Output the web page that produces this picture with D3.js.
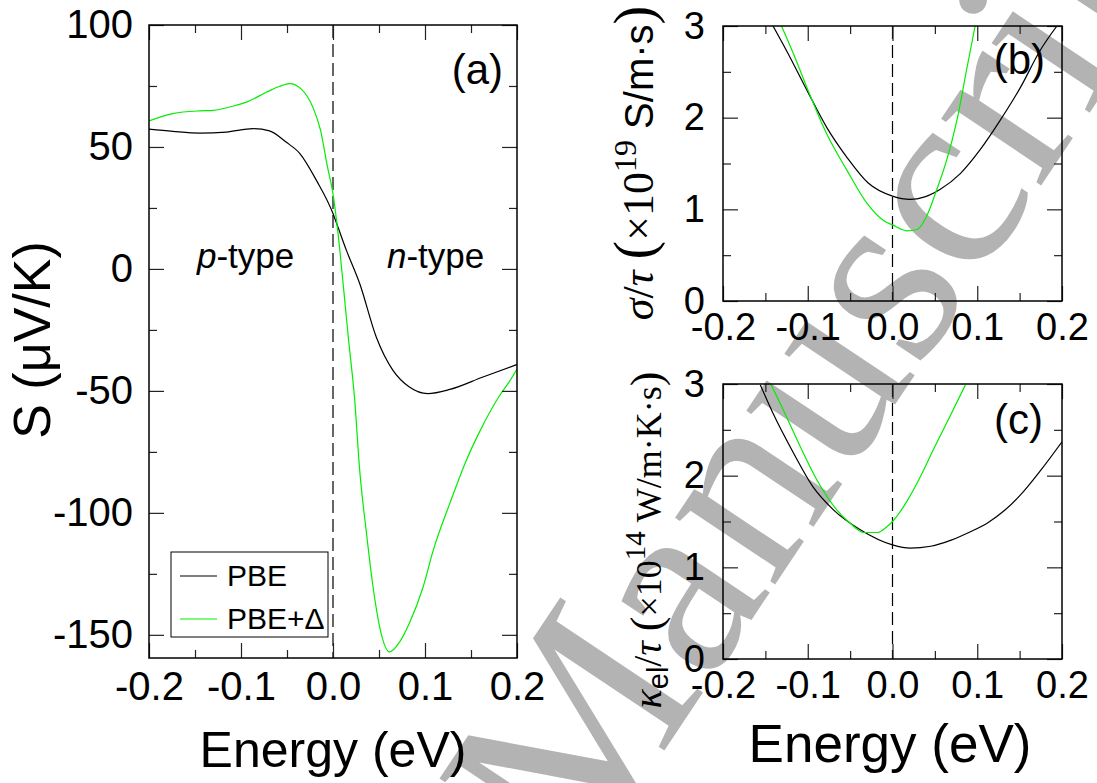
<!DOCTYPE html>
<html>
<head>
<meta charset="utf-8">
<script src="https://cdn.jsdelivr.net/npm/d3@7"></script>
<style>
  body { margin: 0; background: #fff; }
  svg { display: block; }
</style>
</head>
<body>
<svg id="fig" width="1097" height="783"></svg>
<script>
// ---- values ----
// (a) Seebeck coefficient S (uV/K) vs energy (eV)
const energyA_pbe = [-0.2, -0.174, -0.145, -0.116, -0.087, -0.069, -0.051, -0.036, -0.018, 0, 0.004, 0.0145, 0.029, 0.047, 0.065, 0.083, 0.103, 0.127, 0.163, 0.2];
const seebeck_pbe = [57.3, 56.4, 55.7, 56.1, 57.5, 56.6, 52.0, 47.3, 36.3, 22.7, 18.6, 7.7, -6, -27.9, -41.5, -48.4, -51.1, -49.4, -44.3, -39.2];
const energyA_gap = [-0.2, -0.174, -0.145, -0.13, -0.109, -0.094, -0.072, -0.058, -0.047, -0.035, -0.022, -0.0135, -0.006, 0, 0.0055, 0.011, 0.0166, 0.0236, 0.029, 0.036, 0.0435, 0.0507, 0.0616, 0.0725, 0.083, 0.098, 0.109, 0.127, 0.145, 0.159, 0.181, 0.192, 0.2];
const seebeck_gap = [60.7, 63.7, 64.8, 65, 66.7, 68.4, 72.5, 74.9, 76, 73.9, 66.4, 56.8, 41.8, 30.9, 14.5, -6, -27.9, -53.8, -82.5, -107.1, -130.3, -146.7, -157, -152.9, -145.3, -130.3, -115.3, -96.1, -78.4, -67, -52, -46, -41];

// (b) sigma/tau (1e19 S/m s)
const energyB_pbe = [-0.141, -0.125, -0.101, -0.078, -0.054, -0.029, 0, 0.0207, 0.038, 0.056, 0.08, 0.103, 0.127, 0.151, 0.174, 0.194];
const sigma_pbe = [3.0, 2.73, 2.30, 1.90, 1.57, 1.29, 1.144, 1.108, 1.136, 1.217, 1.39, 1.645, 1.97, 2.33, 2.73, 3.0];
const energyB_gap = [-0.131, -0.117, -0.101, -0.078, -0.054, -0.030, -0.011, 0, 0.017, 0.029, 0.040, 0.052, 0.064, 0.076, 0.088, 0.0975];
const sigma_gap = [3.0, 2.70, 2.33, 1.83, 1.43, 1.064, 0.88, 0.83, 0.766, 0.78, 0.92, 1.21, 1.54, 1.97, 2.55, 3.0];

// (c) kappa_el/tau (1e14 W/m K s)
const energyC_pbe = [-0.156, -0.141, -0.117, -0.094, -0.070, -0.038, 0, 0.021, 0.045, 0.070, 0.090, 0.113, 0.132, 0.151, 0.175, 0.2];
const kappa_pbe = [2.99, 2.68, 2.25, 1.88, 1.63, 1.41, 1.245, 1.21, 1.23, 1.30, 1.38, 1.49, 1.62, 1.79, 2.06, 2.37];
const energyC_gap = [-0.143, -0.129, -0.109, -0.089, -0.066, -0.050, -0.034, -0.018, -0.007, 0, 0.017, 0.033, 0.048, 0.068, 0.086];
const kappa_gap = [2.99, 2.72, 2.32, 1.95, 1.63, 1.48, 1.38, 1.38, 1.44, 1.50, 1.72, 1.99, 2.28, 2.65, 2.99];

// ticks
const xMajorTicks = [-0.2, -0.1, 0, 0.1, 0.2];
const xMinorTicks = [-0.15, -0.05, 0.05, 0.15];
const yMajorTicksA = [100, 50, 0, -50, -100, -150];
const yMinorTicksA = [75, 25, -25, -75, -125];
const yMajorTicksBC = [0, 1, 2, 3];
const yMinorTicksBC = [0.5, 1.5, 2.5];

const seriesNames = ["PBE", "PBE+\u0394"];
const seriesColors = ["#000000", "#00ee00"];

const SANS = "'Liberation Sans', Arial, Helvetica, sans-serif";
const SERIF = "'Liberation Serif', 'Times New Roman', serif";

const svg = d3.select('#fig');

// watermark (behind everything)
svg.append('text')
    .attr('transform', 'translate(578,880) rotate(-56.3)')
    .attr('font-family', SERIF)
    .attr('font-size', 262)
    .attr('fill', '#b3b3b3')
    .text('Manuscript');

function drawPanel(p) {
  const g = svg.append('g').attr('transform', 'translate(' + p.left + ',' + p.top + ')');
  const x = d3.scaleLinear().domain([-0.2, 0.2]).range([0, p.w]);
  const y = d3.scaleLinear().domain(p.yDomain).range([p.h, 0]);

  g.append('clipPath').attr('id', 'clip-' + p.id)
    .append('rect').attr('width', p.w).attr('height', p.h);

  // dashed line at E = 0
  g.append('line')
      .attr('x1', x(0)).attr('x2', x(0))
      .attr('y1', 0).attr('y2', p.h)
      .attr('stroke', '#000')
      .attr('stroke-width', 1.2)
      .attr('stroke-dasharray', '13,6');

  const line = d3.line().curve(d3.curveMonotoneX).x(d => x(d[0])).y(d => y(d[1]));
  p.series.forEach(function(s, i) {
    g.append('path')
        .datum(d3.zip(s.e, s.v))
        .attr('clip-path', 'url(#clip-' + p.id + ')')
        .attr('fill', 'none')
        .attr('stroke', seriesColors[i])
        .attr('stroke-width', 1.2)
        .attr('d', line);
  });

  const fmtX = d => d.toFixed(1);
  const fmtY = d => String(d);

  // bottom / left with labels, top / right without
  g.append('g').attr('transform', 'translate(0,' + p.h + ')')
      .call(d3.axisBottom(x).tickValues(xMajorTicks).tickSize(-15).tickPadding(p.xPad).tickFormat(fmtX));
  g.append('g').attr('transform', 'translate(0,' + p.h + ')')
      .call(d3.axisBottom(x).tickValues(xMinorTicks).tickSize(-8).tickFormat(''));
  g.append('g')
      .call(d3.axisTop(x).tickValues(xMajorTicks).tickSize(-15).tickFormat(''));
  g.append('g')
      .call(d3.axisTop(x).tickValues(xMinorTicks).tickSize(-8).tickFormat(''));
  g.append('g')
      .call(d3.axisLeft(y).tickValues(p.yMajor).tickSize(-15).tickPadding(p.yPad).tickFormat(fmtY));
  g.append('g')
      .call(d3.axisLeft(y).tickValues(p.yMinor).tickSize(-8).tickFormat(''));
  g.append('g').attr('transform', 'translate(' + p.w + ',0)')
      .call(d3.axisRight(y).tickValues(p.yMajor).tickSize(-15).tickFormat(''));
  g.append('g').attr('transform', 'translate(' + p.w + ',0)')
      .call(d3.axisRight(y).tickValues(p.yMinor).tickSize(-8).tickFormat(''));

  g.selectAll('.domain').remove();
  g.selectAll('.tick line').attr('stroke', '#222').attr('stroke-width', 1.2);
  g.selectAll('.tick text')
      .attr('font-family', SANS)
      .attr('font-size', p.tickFont)
      .attr('fill', '#000');

  g.append('rect')
      .attr('width', p.w).attr('height', p.h)
      .attr('fill', 'none')
      .attr('stroke', '#000')
      .attr('stroke-width', 1.5);

  g.append('text')
      .attr('x', p.tagX).attr('y', p.tagY)
      .attr('text-anchor', 'end')
      .attr('font-family', SANS)
      .attr('font-size', 42)
      .text(p.tag);

  return { g: g, x: x, y: y };
}

// ---- panel (a) ----
const pa = drawPanel({
  id: 'a', left: 149, top: 25, w: 368, h: 633,
  yDomain: [-159.5, 100], yMajor: yMajorTicksA, yMinor: yMinorTicksA,
  xPad: 14, yPad: 16, tickFont: 40, tag: '(a)', tagX: 354, tagY: 59,
  series: [{ e: energyA_pbe, v: seebeck_pbe }, { e: energyA_gap, v: seebeck_gap }]
});

pa.g.append('text').attr('x', 48).attr('y', 243)
    .attr('font-family', SANS).attr('font-size', 35)
    .call(t => t.append('tspan').attr('font-style', 'italic').text('p'))
    .call(t => t.append('tspan').text('-type'));
pa.g.append('text').attr('x', 238).attr('y', 243)
    .attr('font-family', SANS).attr('font-size', 35)
    .call(t => t.append('tspan').attr('font-style', 'italic').text('n'))
    .call(t => t.append('tspan').text('-type'));

// legend
const leg = pa.g.append('g').attr('transform', 'translate(22,527)');
leg.append('rect').attr('width', 157).attr('height', 85)
    .attr('fill', '#fff').attr('stroke', '#000').attr('stroke-width', 1);
seriesNames.forEach(function(name, i) {
  leg.append('line').attr('x1', 9).attr('x2', 46)
      .attr('y1', 24 + i * 43).attr('y2', 24 + i * 43)
      .attr('stroke', seriesColors[i]).attr('stroke-width', 1.2);
  leg.append('text').attr('x', 56).attr('y', 34 + i * 43)
      .attr('font-family', SANS).attr('font-size', 30)
      .text(name);
});

svg.append('text').attr('x', 333).attr('y', 767)
    .attr('text-anchor', 'middle')
    .attr('font-family', SANS).attr('font-size', 50)
    .text('Energy (eV)');
svg.append('text').attr('transform', 'translate(50,340) rotate(-90)')
    .attr('text-anchor', 'middle')
    .attr('font-family', SANS).attr('font-size', 52)
    .text('S (\u03bcV/K)');

// ---- panel (b) ----
drawPanel({
  id: 'b', left: 723, top: 26, w: 339, h: 275,
  yDomain: [0, 3], yMajor: yMajorTicksBC, yMinor: yMinorTicksBC,
  xPad: 12, yPad: 18, tickFont: 38, tag: '(b)', tagX: 322, tagY: 48,
  series: [{ e: energyB_pbe, v: sigma_pbe }, { e: energyB_gap, v: sigma_gap }]
});

const lb = svg.append('text').attr('transform', 'translate(653,163) rotate(-90)')
    .attr('text-anchor', 'middle')
    .attr('font-family', SERIF).attr('font-size', 44);
lb.append('tspan').attr('font-style', 'italic').text('\u03c3');
lb.append('tspan').text('/');
lb.append('tspan').attr('font-style', 'italic').text('\u03c4 ');
lb.append('tspan').attr('font-size', 56).text('(');
lb.append('tspan').text('\u00d710');
lb.append('tspan').attr('font-size', 32).attr('dy', -17).text('19');
lb.append('tspan').attr('font-family', SANS).attr('font-size', 40).attr('dy', 17).text(' S/m\u00b7s');
lb.append('tspan').attr('font-size', 56).text(')');

// ---- panel (c) ----
drawPanel({
  id: 'c', left: 723, top: 384, w: 339, h: 275,
  yDomain: [0, 3], yMajor: yMajorTicksBC, yMinor: yMinorTicksBC,
  xPad: 12, yPad: 18, tickFont: 38, tag: '(c)', tagX: 320, tagY: 50,
  series: [{ e: energyC_pbe, v: kappa_pbe }, { e: energyC_gap, v: kappa_gap }]
});

const lc = svg.append('text').attr('transform', 'translate(661,540) rotate(-90)')
    .attr('text-anchor', 'middle')
    .attr('font-family', SERIF).attr('font-size', 36);
lc.append('tspan').attr('font-style', 'italic').attr('font-size', 40).text('\u03ba');
lc.append('tspan').attr('font-family', SANS).attr('font-size', 29).attr('dy', 7).text('el');
lc.append('tspan').attr('dy', -7).attr('font-size', 40).text('/');
lc.append('tspan').attr('font-style', 'italic').attr('font-size', 40).text('\u03c4 ');
lc.append('tspan').attr('font-size', 44).text('(');
lc.append('tspan').text('\u00d710');
lc.append('tspan').attr('font-size', 29).attr('dy', -16).text('14');
lc.append('tspan').attr('dy', 16).text(' W/m\u00b7K\u00b7s');
lc.append('tspan').attr('font-size', 44).text(')');

svg.append('text').attr('x', 890).attr('y', 762)
    .attr('text-anchor', 'middle')
    .attr('font-family', SANS).attr('font-size', 53)
    .text('Energy (eV)');
</script>
</body>
</html>
